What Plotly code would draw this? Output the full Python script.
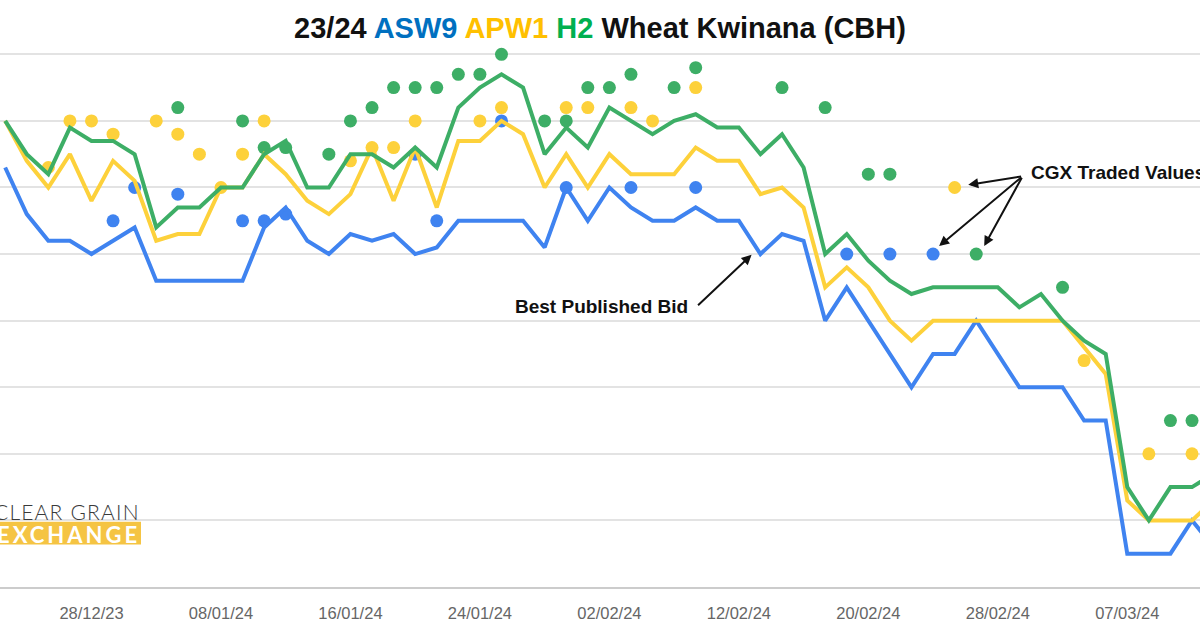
import plotly.graph_objects as go

N = None

# Trading days (category axis)
dates = [
    "20/12/23", "21/12/23", "22/12/23", "27/12/23", "28/12/23", "29/12/23",
    "02/01/24", "03/01/24", "04/01/24", "05/01/24", "08/01/24", "09/01/24",
    "10/01/24", "11/01/24", "12/01/24", "15/01/24", "16/01/24", "17/01/24",
    "18/01/24", "19/01/24", "22/01/24", "23/01/24", "24/01/24", "25/01/24",
    "29/01/24", "30/01/24", "31/01/24", "01/02/24", "02/02/24", "05/02/24",
    "06/02/24", "07/02/24", "08/02/24", "09/02/24", "12/02/24", "13/02/24",
    "14/02/24", "15/02/24", "16/02/24", "19/02/24", "20/02/24", "21/02/24",
    "22/02/24", "23/02/24", "26/02/24", "27/02/24", "28/02/24", "29/02/24",
    "01/03/24", "04/03/24", "05/03/24", "06/03/24", "07/03/24", "08/03/24",
    "11/03/24", "12/03/24", "13/03/24",
]
tick_labels = ["28/12/23", "08/01/24", "16/01/24", "24/01/24", "02/02/24",
               "12/02/24", "20/02/24", "28/02/24", "07/03/24"]

# Best published bids ($/t)
asw9_bid = [383, 376, 372, 372, 370, 372, 374, 366, 366, 366,
            366, 366, 374, 377, 372, 370, 373, 372, 373, 370,
            371, 375, 375, 375, 375, 371, 380, 375, 380, 377,
            375, 375, 377, 375, 375, 370, 373, 372, 360, 365,
            360, 355, 350, 355, 355, 360, 355, 350, 350, 350,
            345, 345, 325, 325, 325, 330, 326]
apw1_bid = [390, 384, 380, 385, 378, 384, 381, 372, 373, 373,
            380, 380, 385, 382, 378, 376, 379, 386, 378, 386,
            377, 387, 387, 390, 388, 380, 385, 380, 385, 382,
            382, 382, 386, 384, 384, 379, 380, 377, 365, 368,
            365, 360, 357, 360, 360, 360, 360, 360, 360, 360,
            356, 352, 333, 330, 330, 330, 333]
h2_bid = [390, 385, 382, 389, 387, 387, 385, 374, 377, 377,
          380, 380, 385, 387, 380, 380, 385, 385, 383, 386,
          383, 392, 395, 397, 395, 385, 389, 386, 392, 390,
          388, 390, 391, 389, 389, 385, 388, 383, 370, 373,
          369, 366, 364, 365, 365, 365, 365, 362, 364, 360,
          357, 355, 335, 330, 335, 335, 337]

# CGX traded values ($/t)
asw9_trade = [N, N, N, N, N, 375, 380, N, 379, N,
              N, 375, 375, 376, N, N, N, N, N, 385,
              375, N, N, 390, N, N, 380, N, N, 380,
              N, N, 380, N, N, N, N, N, N, 370,
              N, 370, N, 370, N, N, N, N, N, N,
              N, N, N, N, N, N, N]
apw1_trade = [N, N, 383, 390, 390, 388, N, 390, 388, 385,
              380, 385, 390, N, N, N, 384, 386, 386, 390,
              N, N, 390, 392, N, N, 392, 392, N, 392,
              390, N, 395, N, N, N, N, N, N, N,
              N, N, N, N, 380, N, N, N, N, N,
              354, N, N, 340, N, 340, N]
h2_trade = [N, N, N, N, N, N, N, N, 392, N,
            N, 390, 386, 386, N, 385, 390, 392, 395, 395,
            395, 397, 397, 400, N, 390, 390, 395, 395, 397,
            N, 395, 398, N, N, N, 395, N, 392, N,
            382, 382, N, N, N, 370, N, N, N, 365,
            N, N, N, N, 345, 345, N]

BLUE = "#3F83F0"
YELLOW = "#FDD13B"
GREEN = "#3DAE66"

fig = go.Figure()

for vals, col in [(asw9_trade, BLUE), (apw1_trade, YELLOW), (h2_trade, GREEN)]:
    fig.add_trace(go.Scatter(x=dates, y=vals, mode="markers",
                             marker=dict(size=13, color=col, line=dict(width=0)),
                             cliponaxis=False, showlegend=False))

for vals, col in [(asw9_bid, BLUE), (apw1_bid, YELLOW), (h2_bid, GREEN)]:
    fig.add_trace(go.Scatter(x=dates, y=vals, mode="lines",
                             line=dict(color=col, width=4, shape="linear"),
                             showlegend=False))

title_html = ("<b>23/24 <span style='color:#0070C0'>ASW9</span> "
              "<span style='color:#FFC000'>APW1</span> "
              "<span style='color:#00B050'>H2</span> Wheat Kwinana (CBH)</b>")

annot_font = dict(family="Liberation Sans", size=19, color="#111111")

annotations = [
    # Best Published Bid
    dict(x=34.59, y=369.9, ax=32.04, ay=362.1, xref="x", yref="y",
         axref="x", ayref="y", text="", showarrow=True, arrowhead=2,
         arrowsize=1, arrowwidth=2, arrowcolor="#111111"),
    dict(x=31.75, y=362.2, xref="x", yref="y", text="<b>Best Published Bid</b>",
         showarrow=False, xanchor="right", yanchor="middle", font=annot_font),
    # CGX Traded Values
    dict(x=44.63, y=380.4, ax=47.15, ay=381.7, xref="x", yref="y",
         axref="x", ayref="y", text="", showarrow=True, arrowhead=2,
         arrowsize=1, arrowwidth=2, arrowcolor="#111111"),
    dict(x=43.28, y=371.2, ax=47.15, ay=381.7, xref="x", yref="y",
         axref="x", ayref="y", text="", showarrow=True, arrowhead=2,
         arrowsize=1, arrowwidth=2, arrowcolor="#111111"),
    dict(x=45.37, y=371.2, ax=47.15, ay=381.7, xref="x", yref="y",
         axref="x", ayref="y", text="", showarrow=True, arrowhead=2,
         arrowsize=1, arrowwidth=2, arrowcolor="#111111"),
    dict(x=47.45, y=382.2, xref="x", yref="y", text="<b>CGX Traded Values</b>",
         showarrow=False, xanchor="left", yanchor="middle", font=annot_font),
    # Logo
    dict(x=142 / 1200, y=331.3, xref="paper", yref="y",
         text="<span style='letter-spacing:1.2px'>CLEAR GRAIN</span>",
         showarrow=False, xanchor="right", yanchor="middle",
         font=dict(family="Lato", size=21, color="#3a3a3a", weight=300)),
    dict(x=142 / 1200, y=327.9, xref="paper", yref="y",
         text="<b><span style='letter-spacing:3px'>EXCHANGE</span></b>",
         showarrow=False, xanchor="right", yanchor="middle",
         font=dict(family="Lato", size=22, color="#FFFFFF")),
]

shapes = [
    dict(type="rect", xref="paper", yref="y", x0=0, x1=141 / 1200,
         y0=326.4, y1=329.8, fillcolor="#F5C443", line=dict(width=0),
         layer="below"),
]

fig.update_layout(
    width=1200, height=630,
    margin=dict(l=0, r=0, t=41, b=43),
    paper_bgcolor="white", plot_bgcolor="white",
    title=dict(text=title_html, x=0.5, xanchor="center", y=1 - 28 / 630,
               yanchor="middle", yref="container",
               font=dict(family="Liberation Sans", size=29, color="#111111")),
    xaxis=dict(type="category", range=[-0.24, 55.37], tickmode="array",
               tickvals=tick_labels, ticktext=tick_labels, showgrid=False,
               ticks="outside", ticklen=10, tickcolor="rgba(0,0,0,0)",
               tickfont=dict(family="Liberation Sans", size=16.5, color="#666666"),
               showline=True, linecolor="#CCCCCC", linewidth=2, zeroline=False),
    yaxis=dict(range=[320, 402], tickmode="array",
               tickvals=[320, 330, 340, 350, 360, 370, 380, 390, 400],
               showticklabels=False, showgrid=True, gridcolor="#E3E3E3",
               gridwidth=2, zeroline=False, showline=False),
    annotations=annotations,
    shapes=shapes,
)

fig.write_html("out.html")
